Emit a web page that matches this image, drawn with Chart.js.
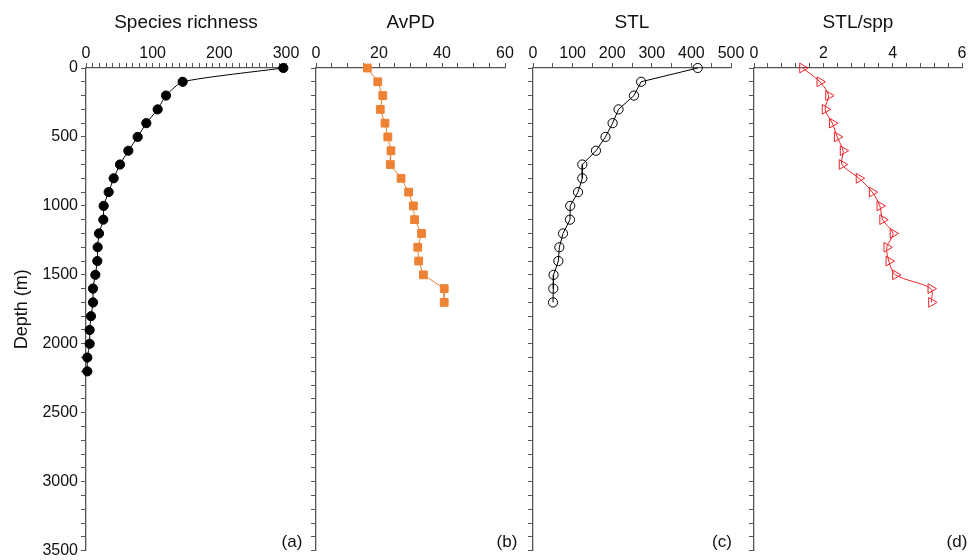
<!DOCTYPE html>
<html>
<head>
<meta charset="utf-8">
<script src="https://cdn.jsdelivr.net/npm/chart.js@4"></script>
<style>
  body { margin: 0; background: #fff; }
  #wrap { position: relative; width: 977px; height: 560px; }
  #wrap canvas { position: absolute; top: 0; }
</style>
</head>
<body>
<div id="wrap">
  <canvas id="pa" width="320" height="560" style="left:0px"></canvas>
  <canvas id="pb" width="225" height="560" style="left:300px"></canvas>
  <canvas id="pc" width="235" height="560" style="left:515px"></canvas>
  <canvas id="pd" width="237" height="560" style="left:740px"></canvas>
</div>
<script>
// depth of each sample (m)
const depthRichness = [0, 100, 200, 300, 400, 500, 600, 700, 800, 900, 1000, 1100,
  1200, 1300, 1400, 1500, 1600, 1700, 1800, 1900, 2000, 2100, 2200];
const depthShort = [0, 100, 200, 300, 400, 500, 600, 700, 800, 900, 1000, 1100,
  1200, 1300, 1400, 1500, 1600, 1700];

// values
const richness = [296, 145, 120, 107.5, 90.5, 77.5, 63.5, 51, 41.5, 34, 26.5, 26,
  19.5, 17.5, 17, 14, 10.5, 10.5, 7.5, 5.5, 5.5, 2, 2];
const avpd = [16.3, 19.6, 21.2, 20.4, 21.9, 22.8, 23.8, 23.6, 27.0, 29.4, 30.9, 31.3,
  33.5, 32.3, 32.6, 34.1, 40.7, 40.7];
const stl = [416, 273, 255, 216, 201, 183, 159, 124.5, 124.5, 113.6, 94, 93.4,
  75.8, 66.5, 64, 52, 51.3, 50.5];
const stlPerSpp = [1.40, 1.90, 2.15, 2.05, 2.26, 2.40, 2.57, 2.54, 3.03, 3.41, 3.63, 3.71,
  4.01, 3.83, 3.89, 4.08, 5.10, 5.12];

// labelled ticks
const depthTicks = [0, 500, 1000, 1500, 2000, 2500, 3000, 3500];
const richnessTicks = [0, 100, 200, 300];
const avpdTicks = [0, 20, 40, 60];
const stlTicks = [0, 100, 200, 300, 400, 500];
const stlSppTicks = [0, 2, 4, 6];

const FONT = '"Liberation Sans", Arial, sans-serif';
const AXIS = '#555';

// draws the (a) (b) ... letter in the lower right corner
const panelLabel = {
  id: 'panelLabel',
  afterDraw(chart, args, opts) {
    const {ctx, chartArea} = chart;
    ctx.save();
    ctx.font = '17px ' + FONT;
    ctx.fillStyle = '#111';
    ctx.textAlign = 'center';
    ctx.textBaseline = 'middle';
    ctx.fillText(opts.text, chartArea.right + opts.dx, chartArea.bottom - 8);
    ctx.restore();
  }
};

function labelFrom(list) {
  return (v) => {
    const hit = list.find(l => Math.abs(l - v) < 1e-6);
    return hit === undefined ? '' : String(hit);
  };
}

function makePanel(id, p) {
  const points = p.depth.map((d, i) => ({x: p.values[i], y: d}));
  return new Chart(document.getElementById(id), {
    type: 'scatter',
    data: {
      datasets: [{
        data: points,
        showLine: true,
        borderColor: p.color,
        borderWidth: 1,
        tension: p.tension,
        pointStyle: p.pointStyle,
        pointRadius: p.radius,
        pointRotation: p.rotation || 0,
        pointBackgroundColor: p.fill,
        pointBorderColor: p.color,
        pointBorderWidth: 1,
        clip: false
      }]
    },
    options: {
      responsive: false,
      animation: false,
      devicePixelRatio: 1,
      layout: {padding: {left: 0, right: p.padRight, top: 0, bottom: 7}},
      plugins: {
        legend: {display: false},
        tooltip: {enabled: false},
        title: {
          display: true,
          text: p.title,
          fullSize: false,
          color: '#111',
          font: {family: FONT, size: 19, weight: 'normal'},
          padding: {top: 11, bottom: 0}
        },
        panelLabel: {text: p.letter, dx: p.letterDx}
      },
      scales: {
        x: {
          type: 'linear',
          position: 'top',
          min: 0,
          max: p.max,
          ticks: {
            stepSize: p.minorStep,
            autoSkip: false,
            maxRotation: 0,
            padding: 0,
            color: '#111',
            font: {family: FONT, size: 16},
            callback: labelFrom(p.ticks)
          },
          grid: {drawOnChartArea: false, drawTicks: true, tickLength: 5, color: AXIS},
          border: {display: true, color: AXIS, width: 1.3},
          afterFit: (s) => { s.height = 34.2; }
        },
        y: {
          type: 'linear',
          position: 'left',
          reverse: true,
          min: 0,
          max: 3500,
          ticks: {
            stepSize: 100,
            autoSkip: false,
            padding: 3,
            color: '#111',
            font: {family: FONT, size: 16, lineHeight: 0.8},
            callback: p.showDepth ? labelFrom(depthTicks) : () => ''
          },
          title: {
            display: p.showDepth,
            text: 'Depth (m)',
            color: '#111',
            font: {family: FONT, size: 18},
            padding: {top: 11, bottom: 0}
          },
          grid: {drawOnChartArea: false, drawTicks: true, tickLength: 5, color: AXIS},
          border: {display: true, color: AXIS, width: 1.3},
          afterFit: (s) => { s.width = p.yWidth; }
        }
      }
    },
    plugins: [panelLabel]
  });
}

makePanel('pa', {
  title: 'Species richness', letter: '(a)', letterDx: 6,
  depth: depthRichness, values: richness, max: 300, minorStep: 10, ticks: richnessTicks,
  color: '#000', fill: '#000', pointStyle: 'circle', radius: 4.6, tension: 0.2,
  showDepth: true, yWidth: 86, padRight: 34
});
makePanel('pb', {
  title: 'AvPD', letter: '(b)', letterDx: 2,
  depth: depthShort, values: avpd, max: 60, minorStep: 5, ticks: avpdTicks,
  color: 'rgb(238,130,52)', fill: 'rgb(238,130,52)', pointStyle: 'rect', radius: 5.5, tension: 0,
  showDepth: false, yWidth: 16, padRight: 20
});
makePanel('pc', {
  title: 'STL', letter: '(c)', letterDx: -9,
  depth: depthShort, values: stl, max: 500, minorStep: 50, ticks: stlTicks,
  color: '#000', fill: 'rgba(0,0,0,0)', pointStyle: 'circle', radius: 4.6, tension: 0,
  showDepth: false, yWidth: 18, padRight: 19
});
makePanel('pd', {
  title: 'STL/spp', letter: '(d)', letterDx: -5,
  depth: depthShort, values: stlPerSpp, max: 6, minorStep: 0.4, ticks: stlSppTicks,
  color: 'rgb(235,35,40)', fill: 'rgba(0,0,0,0)', pointStyle: 'triangle', radius: 5.6,
  rotation: 90, tension: 0.3,
  showDepth: false, yWidth: 14, padRight: 15
});
</script>
</body>
</html>
